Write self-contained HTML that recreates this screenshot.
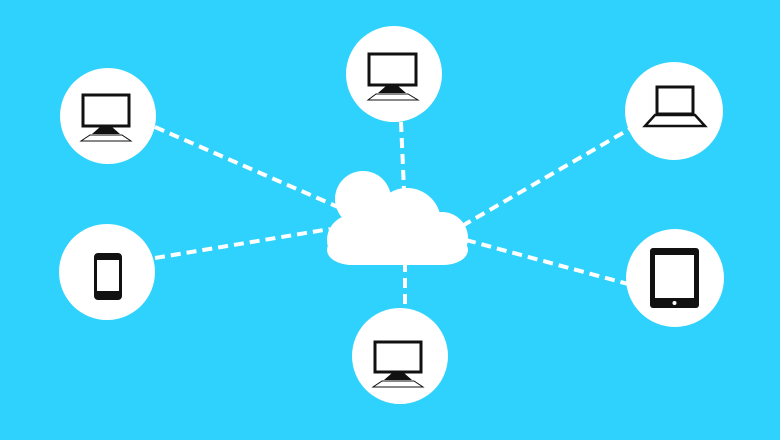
<!DOCTYPE html>
<html><head><style>
html,body{margin:0;padding:0;background:#2fd2fc;}
</style></head><body>
<svg width="780" height="440" viewBox="0 0 780 440" xmlns="http://www.w3.org/2000/svg" style="display:block">
<rect width="780" height="440" fill="#2fd2fc"/>
<g stroke="#fff" stroke-width="4" stroke-dasharray="10 6" fill="none">
<line x1="155" y1="127" x2="338" y2="207"/>
<line x1="155" y1="258" x2="330" y2="229"/>
<line x1="401" y1="122" x2="404" y2="190"/>
<line x1="405" y1="262" x2="405" y2="312"/>
<line x1="462" y1="226" x2="633" y2="127"/>
<line x1="466" y1="240" x2="628" y2="284"/>
</g>
<g fill="#fff">
<circle cx="108" cy="116" r="48"/>
<circle cx="394" cy="74" r="48"/>
<circle cx="674" cy="111" r="49"/>
<circle cx="107" cy="272" r="48"/>
<circle cx="400" cy="356" r="48"/>
<circle cx="675" cy="278" r="49"/>
<!-- cloud -->
<circle cx="363" cy="199" r="28"/>
<circle cx="407" cy="222" r="34"/>
<circle cx="442" cy="238" r="26"/>
<circle cx="352" cy="240" r="25"/>
<rect x="352" y="215" width="92" height="50" rx="4"/>
<rect x="327" y="235" width="141" height="30" rx="25"/>
</g>
<!-- monitor top-left -->
<g>
<rect x="83" y="95" width="46" height="31" fill="#fff" stroke="#111" stroke-width="3"/>
<polygon points="100,127 112,127 120,134 92,134" fill="#111"/>
<polygon points="90,135 122,135 131,141 81,141" fill="#fff" stroke="#111" stroke-width="1"/>
</g>
<!-- monitor top -->
<g>
<rect x="369" y="54" width="47" height="31" fill="#fff" stroke="#111" stroke-width="3"/>
<polygon points="386,86 398,86 406,93 378,93" fill="#111"/>
<polygon points="376,94 408,94 418,100 368,100" fill="#fff" stroke="#111" stroke-width="1"/>
</g>
<!-- monitor bottom -->
<g>
<rect x="375" y="342" width="46" height="30" fill="#fff" stroke="#111" stroke-width="3"/>
<polygon points="392,373 404,373 412,380 384,380" fill="#111"/>
<polygon points="382,381 414,381 423,387 373,387" fill="#fff" stroke="#111" stroke-width="1"/>
</g>
<!-- laptop -->
<g>
<rect x="657" y="87" width="36" height="27" fill="#fff" stroke="#111" stroke-width="3"/>
<polygon points="655,115 695,115 705,126 645,126" fill="#fff" stroke="#111" stroke-width="2.5"/>
</g>
<!-- phone -->
<g>
<rect x="94" y="253" width="28" height="47" rx="4" fill="#111"/>
<rect x="97" y="260" width="22" height="31" fill="#fff"/>
</g>
<!-- tablet -->
<g>
<rect x="650" y="248" width="49" height="60" rx="3" fill="#111"/>
<rect x="655" y="255" width="39" height="43" fill="#fff"/>
<circle cx="674.5" cy="303" r="2" fill="#fff"/>
</g>
</svg>
</body></html>
